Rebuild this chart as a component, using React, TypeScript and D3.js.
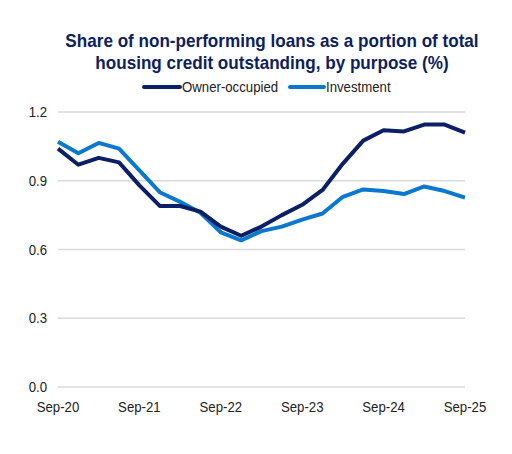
import { useEffect, useRef } from 'react';
import * as d3 from 'd3';

// quarterly, Sep-20 .. Sep-25
const quarters = [
  'Sep-20', 'Dec-20', 'Mar-21', 'Jun-21', 'Sep-21', 'Dec-21', 'Mar-22', 'Jun-22',
  'Sep-22', 'Dec-22', 'Mar-23', 'Jun-23', 'Sep-23', 'Dec-23', 'Mar-24', 'Jun-24',
  'Sep-24', 'Dec-24', 'Mar-25', 'Jun-25', 'Sep-25',
];
const ownerOccupied = [
  1.04, 0.97, 1.0, 0.98, 0.88, 0.79, 0.79, 0.765, 0.7, 0.66, 0.7,
  0.75, 0.795, 0.86, 0.975, 1.075, 1.12, 1.115, 1.145, 1.145, 1.11,
];
const investment = [
  1.07, 1.02, 1.065, 1.04, 0.945, 0.85, 0.808, 0.76, 0.675, 0.64, 0.68,
  0.7, 0.73, 0.757, 0.83, 0.862, 0.855, 0.842, 0.875, 0.855, 0.826,
];
const yTicks = [0, 0.3, 0.6, 0.9, 1.2];
const xTickLabels = ['Sep-20', 'Sep-21', 'Sep-22', 'Sep-23', 'Sep-24', 'Sep-25'];

const titleLines = [
  'Share of non-performing loans as a portion of total',
  'housing credit outstanding, by purpose (%)',
];
const series = [
  { name: 'Owner-occupied', values: ownerOccupied, color: '#0b1f65' },
  { name: 'Investment', values: investment, color: '#0a78d0' },
];

const FONT = '"Liberation Sans Narrow", "Arial Narrow", "Liberation Sans", Arial, sans-serif';

// no narrow font installed, so squeeze text horizontally
function condense(sel: d3.Selection<SVGTextElement, any, any, any>, k: number) {
  sel.each(function () {
    const w = this.getComputedTextLength();
    d3.select(this).attr('textLength', w * k).attr('lengthAdjust', 'spacingAndGlyphs');
  });
}

export default function App() {
  const svgRef = useRef<SVGSVGElement>(null);
  const width = 512;
  const height = 454;

  useEffect(() => {
    const svg = d3.select(svgRef.current);
    svg.selectAll('*').remove();

    const left = 58;
    const right = 465;
    const top = 112;
    const bottom = 387;

    const x = d3.scalePoint<string>().domain(quarters).range([left, right]);
    const y = d3.scaleLinear().domain([0, 1.2]).range([bottom, top]);

    svg.append('rect').attr('width', width).attr('height', height).attr('fill', '#fff');

    // title
    const title = svg.append('g')
      .selectAll('text')
      .data(titleLines)
      .enter().append('text')
      .attr('x', 272)
      .attr('y', (d, i) => 47 + i * 22)
      .attr('text-anchor', 'middle')
      .style('font-family', FONT)
      .style('font-size', '19px')
      .style('font-weight', 'bold')
      .style('fill', '#0d2160')
      .text(d => d);
    condense(title, 0.9);

    // legend
    const legendItems = [
      { ...series[0], x0: 144, x1: 180 },
      { ...series[1], x0: 290, x1: 324 },
    ];
    const lg = svg.append('g');
    legendItems.forEach(item => {
      lg.append('line')
        .attr('x1', item.x0).attr('x2', item.x1)
        .attr('y1', 87).attr('y2', 87)
        .attr('stroke', item.color)
        .attr('stroke-width', 4)
        .attr('stroke-linecap', 'round');
      const t = lg.append('text')
        .attr('x', item.x1 + 2)
        .attr('y', 92)
        .style('font-family', FONT)
        .style('font-size', '15px')
        .style('fill', '#222')
        .text(item.name);
      condense(t, 0.88);
    });

    // gridlines
    svg.append('g')
      .selectAll('line')
      .data(yTicks)
      .enter().append('line')
      .attr('x1', left)
      .attr('x2', right)
      .attr('y1', d => y(d))
      .attr('y2', d => y(d))
      .attr('stroke', '#d9d9d9')
      .attr('stroke-width', 1.5);

    // y labels
    const yl = svg.append('g')
      .selectAll('text')
      .data(yTicks)
      .enter().append('text')
      .attr('x', 47)
      .attr('y', d => y(d) + 5)
      .attr('text-anchor', 'end')
      .style('font-family', FONT)
      .style('font-size', '15px')
      .style('fill', '#222')
      .text(d => d.toFixed(1));
    condense(yl, 0.88);

    // x labels
    const xl = svg.append('g')
      .selectAll('text')
      .data(xTickLabels)
      .enter().append('text')
      .attr('x', d => x(d) as number)
      .attr('y', 412)
      .attr('text-anchor', 'middle')
      .style('font-family', FONT)
      .style('font-size', '15px')
      .style('fill', '#222')
      .text(d => d);
    condense(xl, 0.88);

    const line = d3.line<number>()
      .x((d, i) => x(quarters[i]) as number)
      .y(d => y(d));

    // draw investment first so owner-occupied sits on top
    [series[1], series[0]].forEach(s => {
      svg.append('path')
        .datum(s.values)
        .attr('fill', 'none')
        .attr('stroke', s.color)
        .attr('stroke-width', 4)
        .attr('stroke-linejoin', 'round')
        .attr('d', line);
    });
  }, []);

  return (
    <div>
      <svg ref={svgRef} width={width} height={height} style={{ display: 'block', margin: -8 }} />
    </div>
  );
}
